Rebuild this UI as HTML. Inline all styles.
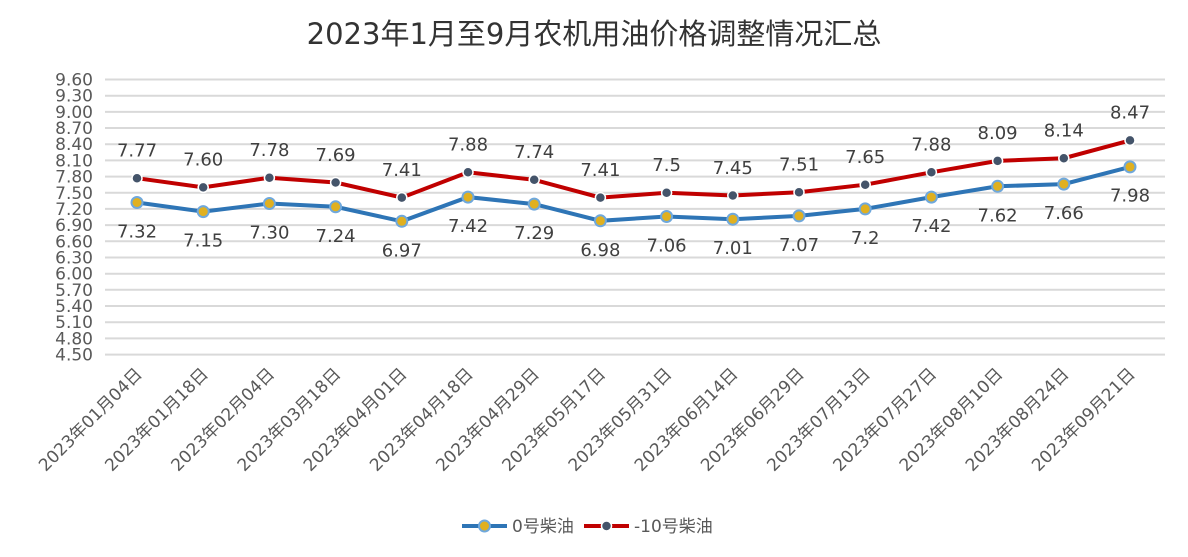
<!DOCTYPE html><html><head><meta charset="utf-8"><style>body{margin:0;background:#fff}svg{display:block}text{font-family:"DejaVu Sans","Liberation Sans","Noto Sans CJK SC",sans-serif}</style></head><body>
<svg width="1188" height="557" viewBox="0 0 1188 557">
<text x="594" y="44" text-anchor="middle" font-size="29" fill="#333">2023年1月至9月农机用油价格调整情况汇总</text>
<g stroke="#d9d9d9" stroke-width="2">
<line x1="105" x2="1165" y1="79.5" y2="79.5"/><line x1="105" x2="1165" y1="95.7" y2="95.7"/><line x1="105" x2="1165" y1="111.9" y2="111.9"/><line x1="105" x2="1165" y1="128.0" y2="128.0"/><line x1="105" x2="1165" y1="144.2" y2="144.2"/><line x1="105" x2="1165" y1="160.4" y2="160.4"/><line x1="105" x2="1165" y1="176.6" y2="176.6"/><line x1="105" x2="1165" y1="192.8" y2="192.8"/><line x1="105" x2="1165" y1="208.9" y2="208.9"/><line x1="105" x2="1165" y1="225.1" y2="225.1"/><line x1="105" x2="1165" y1="241.3" y2="241.3"/><line x1="105" x2="1165" y1="257.5" y2="257.5"/><line x1="105" x2="1165" y1="273.7" y2="273.7"/><line x1="105" x2="1165" y1="289.8" y2="289.8"/><line x1="105" x2="1165" y1="306.0" y2="306.0"/><line x1="105" x2="1165" y1="322.2" y2="322.2"/><line x1="105" x2="1165" y1="338.4" y2="338.4"/><line x1="105" x2="1165" y1="354.6" y2="354.6"/>
</g>
<g font-size="17" fill="#595959" text-anchor="end">
<text x="93" y="85.5">9.60</text><text x="93" y="101.7">9.30</text><text x="93" y="117.9">9.00</text><text x="93" y="134">8.70</text><text x="93" y="150.2">8.40</text><text x="93" y="166.4">8.10</text><text x="93" y="182.6">7.80</text><text x="93" y="198.8">7.50</text><text x="93" y="214.9">7.20</text><text x="93" y="231.1">6.90</text><text x="93" y="247.3">6.60</text><text x="93" y="263.5">6.30</text><text x="93" y="279.7">6.00</text><text x="93" y="295.8">5.70</text><text x="93" y="312">5.40</text><text x="93" y="328.2">5.10</text><text x="93" y="344.4">4.80</text><text x="93" y="360.6">4.50</text>
</g>
<g font-size="17" fill="#595959" text-anchor="end">
<text transform="translate(143,375) rotate(-45)">2023年01月04日</text>
<text transform="translate(209.2,375) rotate(-45)">2023年01月18日</text>
<text transform="translate(275.4,375) rotate(-45)">2023年02月04日</text>
<text transform="translate(341.6,375) rotate(-45)">2023年03月18日</text>
<text transform="translate(407.8,375) rotate(-45)">2023年04月01日</text>
<text transform="translate(474,375) rotate(-45)">2023年04月18日</text>
<text transform="translate(540.2,375) rotate(-45)">2023年04月29日</text>
<text transform="translate(606.4,375) rotate(-45)">2023年05月17日</text>
<text transform="translate(672.6,375) rotate(-45)">2023年05月31日</text>
<text transform="translate(738.8,375) rotate(-45)">2023年06月14日</text>
<text transform="translate(805,375) rotate(-45)">2023年06月29日</text>
<text transform="translate(871.2,375) rotate(-45)">2023年07月13日</text>
<text transform="translate(937.4,375) rotate(-45)">2023年07月27日</text>
<text transform="translate(1003.6,375) rotate(-45)">2023年08月10日</text>
<text transform="translate(1069.8,375) rotate(-45)">2023年08月24日</text>
<text transform="translate(1136,375) rotate(-45)">2023年09月21日</text>
</g>
<polyline fill="none" stroke="#c00000" stroke-width="4" points="137,178.2 203.2,187.4 269.4,177.7 335.6,182.5 401.8,197.6 468,172.3 534.2,179.8 600.4,197.6 666.6,192.8 732.8,195.5 799,192.2 865.2,184.7 931.4,172.3 997.6,160.9 1063.8,158.2 1130,140.4"/>
<polyline fill="none" stroke="#2e75b6" stroke-width="4" points="137,202.5 203.2,211.6 269.4,203.5 335.6,206.8 401.8,221.3 468,197.1 534.2,204.1 600.4,220.8 666.6,216.5 732.8,219.2 799,215.9 865.2,208.9 931.4,197.1 997.6,186.3 1063.8,184.1 1130,166.9"/>
<g fill="#44546a" stroke="#fff" stroke-width="1.5">
<circle cx="137" cy="178.2" r="5"/><circle cx="203.2" cy="187.4" r="5"/><circle cx="269.4" cy="177.7" r="5"/><circle cx="335.6" cy="182.5" r="5"/><circle cx="401.8" cy="197.6" r="5"/><circle cx="468" cy="172.3" r="5"/><circle cx="534.2" cy="179.8" r="5"/><circle cx="600.4" cy="197.6" r="5"/><circle cx="666.6" cy="192.8" r="5"/><circle cx="732.8" cy="195.5" r="5"/><circle cx="799" cy="192.2" r="5"/><circle cx="865.2" cy="184.7" r="5"/><circle cx="931.4" cy="172.3" r="5"/><circle cx="997.6" cy="160.9" r="5"/><circle cx="1063.8" cy="158.2" r="5"/><circle cx="1130" cy="140.4" r="5"/>
</g>
<g fill="#e0b020" stroke="#6fa8dc" stroke-width="2">
<circle cx="137" cy="202.5" r="5.5"/><circle cx="203.2" cy="211.6" r="5.5"/><circle cx="269.4" cy="203.5" r="5.5"/><circle cx="335.6" cy="206.8" r="5.5"/><circle cx="401.8" cy="221.3" r="5.5"/><circle cx="468" cy="197.1" r="5.5"/><circle cx="534.2" cy="204.1" r="5.5"/><circle cx="600.4" cy="220.8" r="5.5"/><circle cx="666.6" cy="216.5" r="5.5"/><circle cx="732.8" cy="219.2" r="5.5"/><circle cx="799" cy="215.9" r="5.5"/><circle cx="865.2" cy="208.9" r="5.5"/><circle cx="931.4" cy="197.1" r="5.5"/><circle cx="997.6" cy="186.3" r="5.5"/><circle cx="1063.8" cy="184.1" r="5.5"/><circle cx="1130" cy="166.9" r="5.5"/>
</g>
<g font-size="18" fill="#404040" text-anchor="middle">
<text x="137" y="156.5">7.77</text><text x="203.2" y="165.7">7.60</text><text x="269.4" y="156">7.78</text><text x="335.6" y="160.8">7.69</text><text x="401.8" y="175.9">7.41</text><text x="468" y="150.6">7.88</text><text x="534.2" y="158.1">7.74</text><text x="600.4" y="175.9">7.41</text><text x="666.6" y="171.1">7.5</text><text x="732.8" y="173.8">7.45</text><text x="799" y="170.5">7.51</text><text x="865.2" y="163">7.65</text><text x="931.4" y="150.6">7.88</text><text x="997.6" y="139.2">8.09</text><text x="1063.8" y="136.5">8.14</text><text x="1130" y="118.7">8.47</text>
<text x="137" y="237.5">7.32</text><text x="203.2" y="246.6">7.15</text><text x="269.4" y="238.5">7.30</text><text x="335.6" y="241.8">7.24</text><text x="401.8" y="256.3">6.97</text><text x="468" y="232.1">7.42</text><text x="534.2" y="239.1">7.29</text><text x="600.4" y="255.8">6.98</text><text x="666.6" y="251.5">7.06</text><text x="732.8" y="254.2">7.01</text><text x="799" y="250.9">7.07</text><text x="865.2" y="243.9">7.2</text><text x="931.4" y="232.1">7.42</text><text x="997.6" y="221.3">7.62</text><text x="1063.8" y="219.1">7.66</text><text x="1130" y="201.5">7.98</text>
</g>
<line x1="462" x2="507" y1="526" y2="526" stroke="#2e75b6" stroke-width="4"/>
<circle cx="484.5" cy="526" r="5.5" fill="#e0b020" stroke="#6fa8dc" stroke-width="2"/>
<text x="512" y="532" font-size="17" fill="#595959">0号柴油</text>
<line x1="584" x2="629" y1="526" y2="526" stroke="#c00000" stroke-width="4"/>
<circle cx="606.5" cy="526" r="5" fill="#44546a" stroke="#fff" stroke-width="1.5"/>
<text x="634" y="532" font-size="17" fill="#595959">-10号柴油</text>
</svg></body></html>
